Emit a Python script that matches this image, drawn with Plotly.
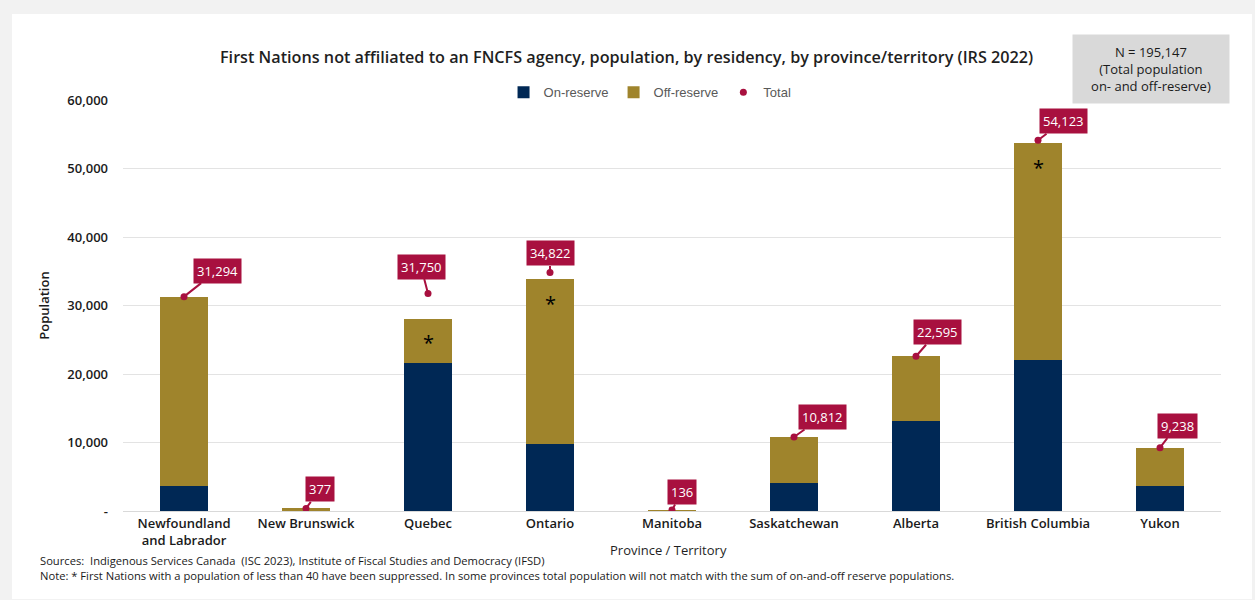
import plotly.graph_objects as go

# Population of First Nations not affiliated to an FNCFS agency (IRS 2022)
provinces = ["Newfoundland<br>and Labrador", "New Brunswick", "Quebec", "Ontario",
             "Manitoba", "Saskatchewan", "Alberta", "British Columbia", "Yukon"]
on_reserve = [3650, 0, 21600, 9800, 0, 4100, 13100, 22000, 3700]
off_reserve = [27644, 377, 6450, 24050, 136, 6712, 9495, 31700, 5538]
total = [31294, 377, 31750, 34822, 136, 10812, 22595, 54123, 9238]
# provinces where small First Nations were suppressed
suppressed = [False, False, True, True, False, False, False, True, False]
# callout offsets (px) for the total labels
label_dx = [33, 14, -7, 0, 10, 28, 21, 25, 17]
label_dy = [-26, -19, -27, -19, -18, -20, -24, -19, -22]

y_ticks = [0, 10000, 20000, 30000, 40000, 50000, 60000]
y_ticktext = ["-", "10,000", "20,000", "30,000", "40,000", "50,000", "60,000"]

NAVY = "#002855"
OLIVE = "#9f842c"
CRIMSON = "#a8103f"
FONT = "Open Sans"

fig = go.Figure()
fig.add_trace(go.Bar(name="On-reserve", x=provinces, y=on_reserve,
                     marker_color=NAVY, marker_line_width=0))
fig.add_trace(go.Bar(name="Off-reserve", x=provinces, y=off_reserve,
                     marker_color=OLIVE, marker_line_width=0))
fig.add_trace(go.Scatter(name="Total", x=provinces, y=total, mode="markers",
                         marker=dict(color=CRIMSON, size=7)))

annotations = []
for p, t, dx, dy in zip(provinces, total, label_dx, label_dy):
    annotations.append(dict(
        x=p, y=t, xref="x", yref="y", text=f"{t:,}",
        showarrow=True, arrowhead=0, arrowwidth=2, arrowcolor=CRIMSON,
        ax=dx, ay=dy, standoff=0,
        bgcolor=CRIMSON, borderpad=3,
        font=dict(family=FONT, size=13, color="white", weight=500),
    ))

for p, on, off, s in zip(provinces, on_reserve, off_reserve, suppressed):
    if s:
        annotations.append(dict(
            x=p, y=on + off, xref="x", yref="y", text="*", showarrow=False,
            yshift=-24, font=dict(family=FONT, size=20, color="black"),
        ))

footnote = ("Sources:  Indigenous Services Canada  (ISC 2023), Institute of Fiscal Studies "
            "and Democracy (IFSD)<br>"
            "Note: * First Nations with a population of less than 40 have been suppressed. "
            "In some provinces total population will not match with the sum of on-and-off "
            "reserve populations.")

annotations += [
    dict(text="First Nations not affiliated to an FNCFS agency, population, by residency, "
              "by province/territory (IRS 2022)",
         xref="paper", yref="paper", x=0.459, y=1.104, xanchor="center", yanchor="middle",
         showarrow=False, font=dict(family=FONT, size=16.2, color="#1f1f1f", weight=600)),
    dict(text="N = 195,147<br>(Total population<br>on- and off-reserve)",
         xref="paper", yref="paper", x=0.936, y=1.075, xanchor="center", yanchor="middle",
         showarrow=False, bgcolor="#d9d9d9", borderpad=8, width=140,
         font=dict(family=FONT, size=13, color="#1a1a1a", weight=500)),
    dict(text="Province / Territory", xref="paper", yref="paper",
         x=0.497, y=-0.095, xanchor="center", yanchor="middle", showarrow=False,
         font=dict(family=FONT, size=13, color="#1f1f1f", weight=500)),
    dict(text=footnote, xref="paper", yref="paper", x=-0.077, y=-0.1375,
         xanchor="left", yanchor="middle", align="left", showarrow=False,
         font=dict(family=FONT, size=11.2, color="#1a1a1a")),
]

# white card on a light grey page
plot_l, plot_r, plot_t, plot_b = 123, 1221, 100, 511
pw, ph = plot_r - plot_l, plot_b - plot_t
card = dict(type="rect", xref="paper", yref="paper", layer="below",
            x0=(12 - plot_l) / pw, x1=(1252 - plot_l) / pw,
            y0=(plot_b - 599) / ph, y1=(plot_b - 14) / ph,
            fillcolor="white", line_width=0)

fig.update_layout(
    width=1255, height=600,
    margin=dict(l=plot_l, r=1255 - plot_r, t=plot_t, b=600 - plot_b),
    paper_bgcolor="#f2f2f2", plot_bgcolor="white",
    barmode="stack", bargap=0.61,
    font=dict(family=FONT, color="#262626"),
    shapes=[card],
    annotations=annotations,
    legend=dict(orientation="h", x=0.48, y=0.982, xanchor="center", yanchor="bottom",
                bgcolor="rgba(0,0,0,0)",
                font=dict(family="Liberation Sans", size=13, color="#595959"),
                itemwidth=30, traceorder="normal"),
    showlegend=True,
)
fig.update_xaxes(showgrid=False, showline=True, linecolor="#d9d9d9", linewidth=1,
                 ticks="", tickfont=dict(family=FONT, size=13, color="#1a1a1a", weight=600))
fig.update_yaxes(range=[0, 60000], tickvals=y_ticks, ticktext=y_ticktext,
                 showgrid=True, gridcolor="#e3e3e3", gridwidth=1, zeroline=False,
                 ticklabelstandoff=14,
                 tickfont=dict(family=FONT, size=13, color="#1a1a1a", weight=600),
                 title=dict(text="Population", standoff=14,
                            font=dict(family=FONT, size=13, color="#1a1a1a", weight=600)))

fig.write_html("out.html")
